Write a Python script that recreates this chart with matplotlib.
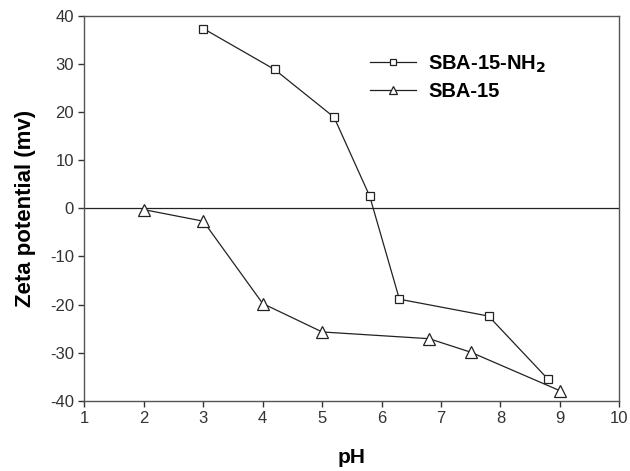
import matplotlib.pyplot as plt

plt.rcParams['font.family'] = ['Liberation Sans', 'DejaVu Sans']
plt.rcParams['axes.unicode_minus'] = False

# data
ph_nh2 = [3.0, 4.2, 5.2, 5.8, 6.3, 7.8, 8.8]
zeta_nh2 = [37.3, 28.8, 18.9, 2.5, -18.9, -22.4, -35.5]
ph_sba = [2.0, 3.0, 4.0, 5.0, 6.8, 7.5, 9.0]
zeta_sba = [-0.3, -2.7, -19.8, -25.7, -27.1, -29.9, -37.9]

fig = plt.figure(figsize=(6.3, 4.71), dpi=100)
ax = fig.add_axes([0.134, 0.149, 0.849, 0.818])

ax.plot(ph_nh2, zeta_nh2, color='#222222', lw=0.9, marker='s', ms=6,
        mfc='white', mec='#222222', mew=0.9, label='SBA-15-NH$_\\mathbf{2}$')
ax.plot(ph_sba, zeta_sba, color='#222222', lw=0.9, marker='^', ms=8,
        mfc='white', mec='#222222', mew=0.9, label='SBA-15')
ax.axhline(0, color='#222222', lw=0.9, zorder=0)

ax.set_xlim(1, 10)
ax.set_ylim(-40, 40)
ax.set_xticks(range(1, 11))
ax.set_yticks(range(-40, 41, 10))
ax.tick_params(direction='out', length=4, width=1, labelsize=12,
               colors='#333333')
for s in ax.spines.values():
    s.set_color('#555555')
    s.set_linewidth(1.0)

ax.set_xlabel('pH', fontsize=15, fontweight='bold', labelpad=16)
ax.set_ylabel('Zeta potential (mv)', fontsize=16, fontweight='bold', labelpad=10)

leg = ax.legend(loc='upper left', bbox_to_anchor=(0.515, 0.928), frameon=False,
                fontsize=14.5, handlelength=2.3, handletextpad=0.6,
                labelspacing=0.35, borderpad=0, markerscale=0.8)
for t in leg.get_texts():
    t.set_fontweight('bold')

fig.savefig('out.png', dpi=100)
